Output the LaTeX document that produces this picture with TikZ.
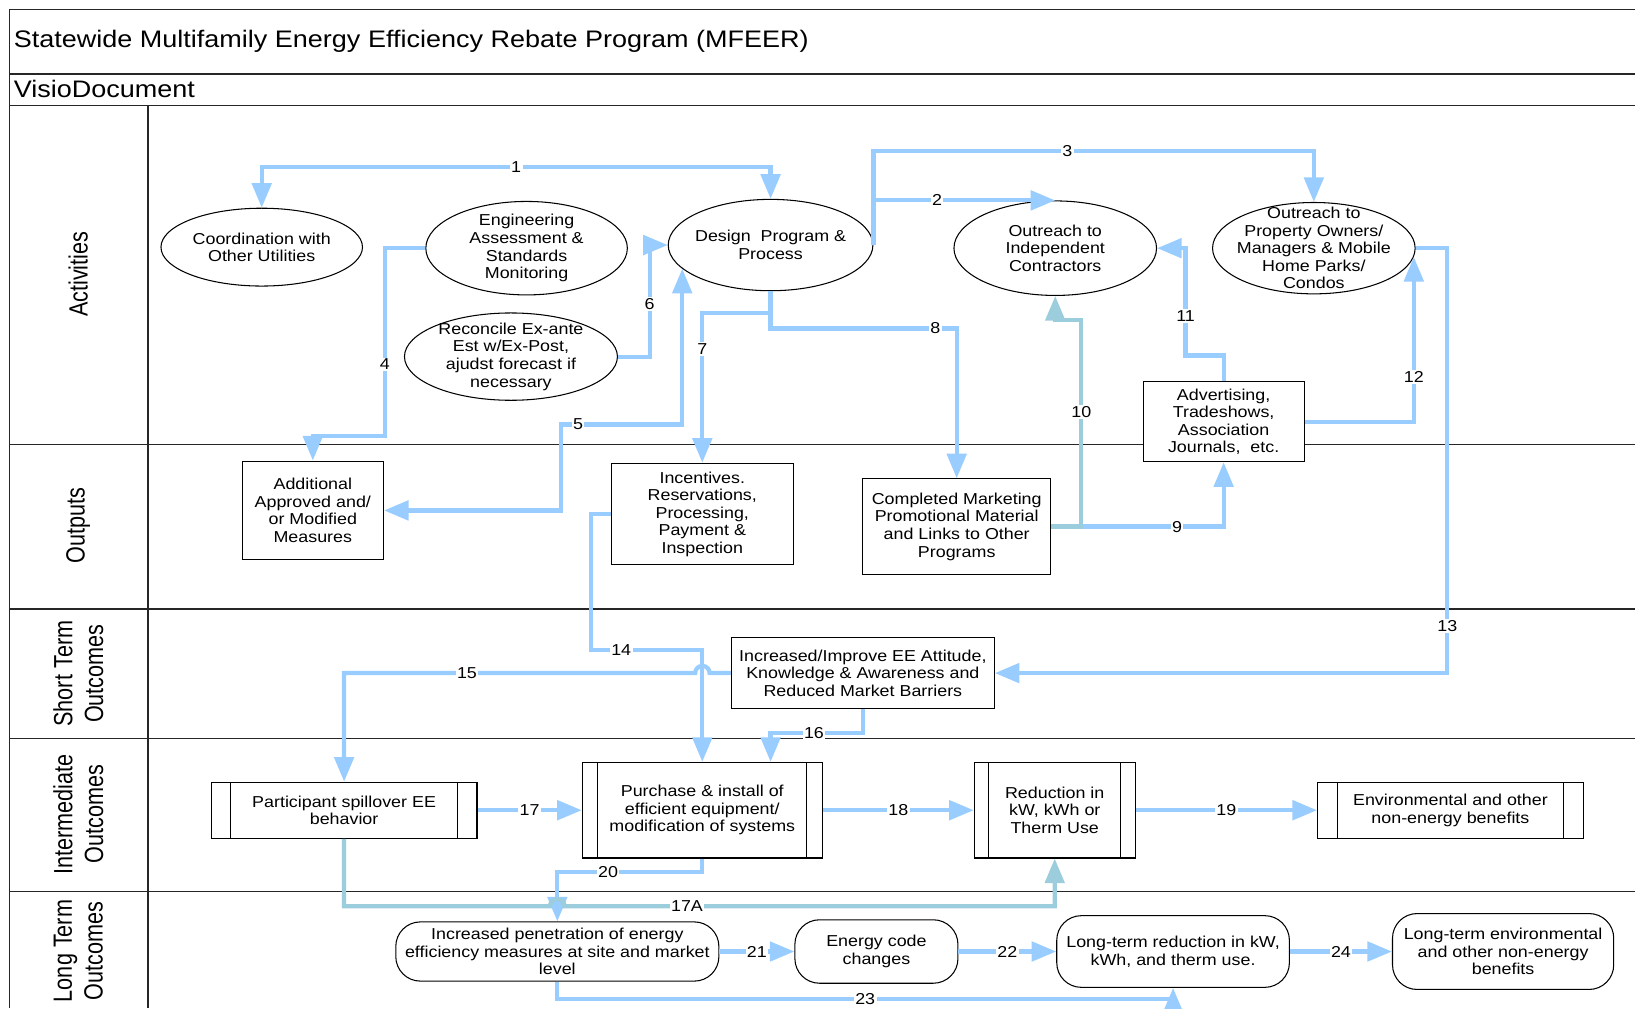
\documentclass[tikz,border=0pt]{standalone}
\usepackage{fontspec}
\setmainfont{Liberation Sans}[FakeStretch=1.13]
\newfontfamily\lanefont{Liberation Sans}[FakeStretch=0.82]
\usetikzlibrary{shapes.geometric,arrows.meta}
\definecolor{flowblue}{RGB}{153,204,255}
\definecolor{flowteal}{RGB}{155,205,221}
\tikzstyle{swimlane}=[draw=black!85, line width=0.8pt]
\tikzstyle{activity}=[ellipse, draw=black, fill=white, line width=0.6pt, align=center, inner sep=-8pt, font=\fontsize{9}{10}\selectfont]
\tikzstyle{outbox}=[rectangle, draw=black, fill=white, line width=0.6pt, align=center, inner sep=2pt, font=\fontsize{9}{10}\selectfont]
\tikzstyle{longterm}=[outbox, rounded corners=14pt]
\tikzstyle{lane}=[rotate=90, align=center, font=\lanefont\fontsize{15}{17.5}\selectfont]
\tikzstyle{num}=[fill=white, inner sep=0.8pt, text=black, font=\fontsize{9}{10}\selectfont]
\tikzstyle{flowline}=[draw=flowblue, line width=2.4pt, ->]
\tikzstyle{spillline}=[draw=flowteal, line width=2.4pt, ->]
\tikzset{outcome/.style={outbox, path picture={
    \draw[line width=0.6pt] ([xshift=#1]path picture bounding box.north west) -- ([xshift=#1]path picture bounding box.south west);
    \draw[line width=0.6pt] ([xshift=-#1]path picture bounding box.north east) -- ([xshift=-#1]path picture bounding box.south east);}},
  outcome/.default=10pt}
\tikzset{>={Triangle[length=14pt,width=11pt]}}

\begin{document}
\begin{tikzpicture}[x=0.020854cm, y=-0.020854cm]
    \useasboundingbox (0,0) rectangle (1568,967);

    % frame and lanes
    \draw[swimlane] (9,9) -- (1568,9);
    \draw[swimlane] (9,9) -- (9,967);
    \draw[swimlane] (9,71) -- (1568,71);
    \draw[swimlane] (9,101) -- (1568,101);
    \draw[swimlane] (142,101) -- (142,967);
    \foreach \y in {426,584,708,855}
        \draw[swimlane] (9,\y) -- (1568,\y);

    \node(title)[anchor=west, inner sep=0pt, font=\fontsize{13.6}{16}\selectfont] at (13,40) {
        Statewide Multifamily Energy Efficiency Rebate Program (MFEER)
    };
    \node(doc)[anchor=west, inner sep=0pt, font=\fontsize{13.6}{16}\selectfont] at (13,85) {
        VisioDocument
    };

    \node(activities)[lane] at (75,263) {Activities};
    \node(outputs)[lane] at (75,504) {Outputs};
    \node(shortterm)[lane] at (75,646) {Short Term\\Outcomes};
    \node(intermediate)[lane] at (75,781) {Intermediate\\Outcomes};
    \node(longterm)[lane] at (75,912) {Long Term\\Outcomes};

    % activities
    \node(coordination)[activity, minimum width=114.7pt, minimum height=44.3pt] at (251,237) {
        Coordination with\\Other Utilities
    };
    \node(engineering)[activity, minimum width=114.7pt, minimum height=53.2pt] at (505,238) {
        Engineering\\Assessment \&\\Standards\\Monitoring
    };
    \node(reconcile)[activity, minimum width=121.2pt, minimum height=49.7pt] at (490,342) {
        Reconcile Ex-ante\\Est w/Ex-Post,\\ajudst forecast if\\necessary
    };
    \node(design)[activity, minimum width=116.5pt, minimum height=52pt] at (739,235) {
        Design\ \ Program \&\\Process
    };
    \node(contractors)[activity, minimum width=115.3pt, minimum height=53.8pt] at (1012,238) {
        Outreach to\\Independent\\Contractors
    };
    \node(owners)[activity, minimum width=115.3pt, minimum height=52pt] at (1260,238) {
        Outreach to\\Property Owners/\\Managers \& Mobile\\Home Parks/\\Condos
    };
    \node(advertising)[outbox, minimum width=91.6pt, minimum height=45.5pt] at (1173.5,404.5) {
        Advertising,\\Tradeshows,\\Association\\Journals,\ \ etc.
    };

    % outputs
    \node(measures)[outbox, minimum width=80.4pt, minimum height=56.2pt] at (300,489.5) {
        Additional\\Approved and/\\or Modified\\Measures
    };
    \node(incentives)[outbox, minimum width=103.5pt, minimum height=57.9pt] at (673.5,493) {
        Incentives.\\Reservations,\\Processing,\\Payment \&\\Inspection
    };
    \node(marketing)[outbox, minimum width=107pt, minimum height=54.4pt] at (917.5,505) {
        Completed Marketing\\Promotional Material\\and Links to Other\\Programs
    };

    % short term
    \node(attitude)[outbox, minimum width=149.6pt, minimum height=40.8pt] at (827.5,645.5) {
        Increased/Improve EE Attitude,\\Knowledge \& Awareness and\\Reduced Market Barriers
    };

    % intermediate
    \node(spillover)[outcome=11.2pt, minimum width=151.3pt, minimum height=31.9pt] at (330,777) {
        Participant spillover EE\\behavior
    };
    \node(purchase)[outcome=8.9pt, minimum width=136.6pt, minimum height=54.4pt] at (673.5,777) {
        Purchase \& install of\\efficient equipment/\\modification of systems
    };
    \node(reduction)[outcome=8.3pt, minimum width=91.6pt, minimum height=54.4pt] at (1011.5,777) {
        Reduction in\\kW, kWh or\\Therm Use
    };
    \node(benefits)[outcome=11.2pt, minimum width=151.3pt, minimum height=31.9pt] at (1391,777) {
        Environmental and other\\non-energy benefits
    };

    % long term
    \node(penetration)[longterm, minimum width=183.9pt, minimum height=33.7pt] at (534.5,912.5) {
        Increased penetration of energy\\efficiency measures at site and market\\level
    };
    \node(codes)[longterm, minimum width=92.8pt, minimum height=36.1pt] at (840.5,912.5) {
        Energy code\\changes
    };
    \node(ltreduction)[longterm, minimum width=132.4pt, minimum height=40.8pt] at (1125,912.5) {
        Long-term reduction in kW,\\kWh, and therm use.
    };
    \node(ltbenefits)[longterm, minimum width=125.9pt, minimum height=43.2pt] at (1441.5,912.5) {
        Long-term environmental\\and other non-energy\\benefits
    };

    % connectors
    \draw[flowline, <->] (coordination.north) -- (coordination.north |- 0,160) -- node[num]{1} (design.north |- 0,160) -- (design.north);
    \draw[flowline] (design.east) -- (design.east |- 0,145) -- node[num, pos=0.44]{3} (owners.north |- 0,145) -- (owners.north);
    \draw[flowline] (design.east |- contractors.north) -- node[num, pos=0.35]{2} (contractors.north);
    \draw[flowline] (engineering.west) -- (369,0 |- engineering.west) -- node[num, pos=0.62]{4} (369,418) -- (measures.north |- 0,418) -- (measures.north);
    \draw[flowline, <->] (measures.east) -- (538,0 |- measures.east) -- (538,407) -- node[num, pos=0.14]{5} (design.195 |- 0,407) -- (design.195);
    \draw[flowline] (reconcile.east) -- (623,0 |- reconcile.east) -- node[num, pos=0.47]{6} (623,0 |- design.west) -- (design.west);
    \draw[flowline] (design.south) -- (design.south |- 0,300) -- (incentives.north |- 0,300) -- node[num, pos=0.24]{7} (incentives.north);
    \draw[flowline] (design.south) -- (design.south |- 0,315) -- node[num, pos=0.885]{8} (marketing.north |- 0,315) -- (marketing.north);
    \draw[flowline] (marketing.east) -- node[num, pos=0.73]{9} (advertising.south |- marketing.east) -- (advertising.south);
    \draw[spillline] (marketing.east) -- (1037,0 |- marketing.east) -- node[num, pos=0.556]{10} (1037,307) -- (contractors.south |- 0,307) -- (contractors.south);
    \draw[flowline] (advertising.north) -- (advertising.north |- 0,341) -- (1137,341) -- node[num, pos=0.37]{11} (1137,0 |- contractors.east) -- (contractors.east);
    \draw[flowline] (advertising.east) -- (owners.355 |- advertising.east) -- node[num, pos=0.27]{12} (owners.355);
    \draw[flowline] (owners.east) -- (1388,0 |- owners.east) -- node[num, pos=0.89]{13} (1388,0 |- attitude.east) -- (attitude.east);
    \draw[flowline] (incentives.west) -- (567,0 |- incentives.west) -- (567,623) -- node[num, pos=0.27]{14} (purchase.north |- 0,623) -- (purchase.north);
    \draw[flowline] (attitude.west) -- (680.5,0 |- attitude.west) arc[start angle=0, end angle=180, radius=4.1pt] -- node[num, pos=0.65]{15} (spillover.north |- attitude.west) -- (spillover.north);
    \draw[flowline] (attitude.south) -- (attitude.south |- 0,703) -- node[num, pos=0.53]{16} (739,703) -- (739,0 |- purchase.north);
    \draw[flowline] (spillover.east) -- node[num]{17} (purchase.west);
    \draw[flowline] (purchase.east) -- node[num]{18} (reduction.west);
    \draw[flowline] (reduction.east) -- node[num]{19} (benefits.west);
    \draw[flowline] (purchase.south) -- (purchase.south |- 0,836) -- node[num, pos=0.65]{20} (penetration.north |- 0,836) -- (penetration.north);
    \draw[spillline] (spillover.south) -- (spillover.south |- 0,869) -- (527.5,869) arc[start angle=180, end angle=0, radius=4.1pt] -- node[num, pos=0.25]{17A} (reduction.south |- 0,869) -- (reduction.south);
    \draw[flowline] (penetration.east) -- node[num]{21} (codes.west);
    \draw[flowline] (codes.east) -- node[num]{22} (ltreduction.west);
    \draw[flowline] (ltreduction.east) -- node[num]{24} (ltbenefits.west);
    \draw[flowline] (penetration.south) -- (penetration.south |- 0,958) -- node[num]{23} (ltreduction.south |- 0,958) -- (ltreduction.south);
\end{tikzpicture}
\end{document}
